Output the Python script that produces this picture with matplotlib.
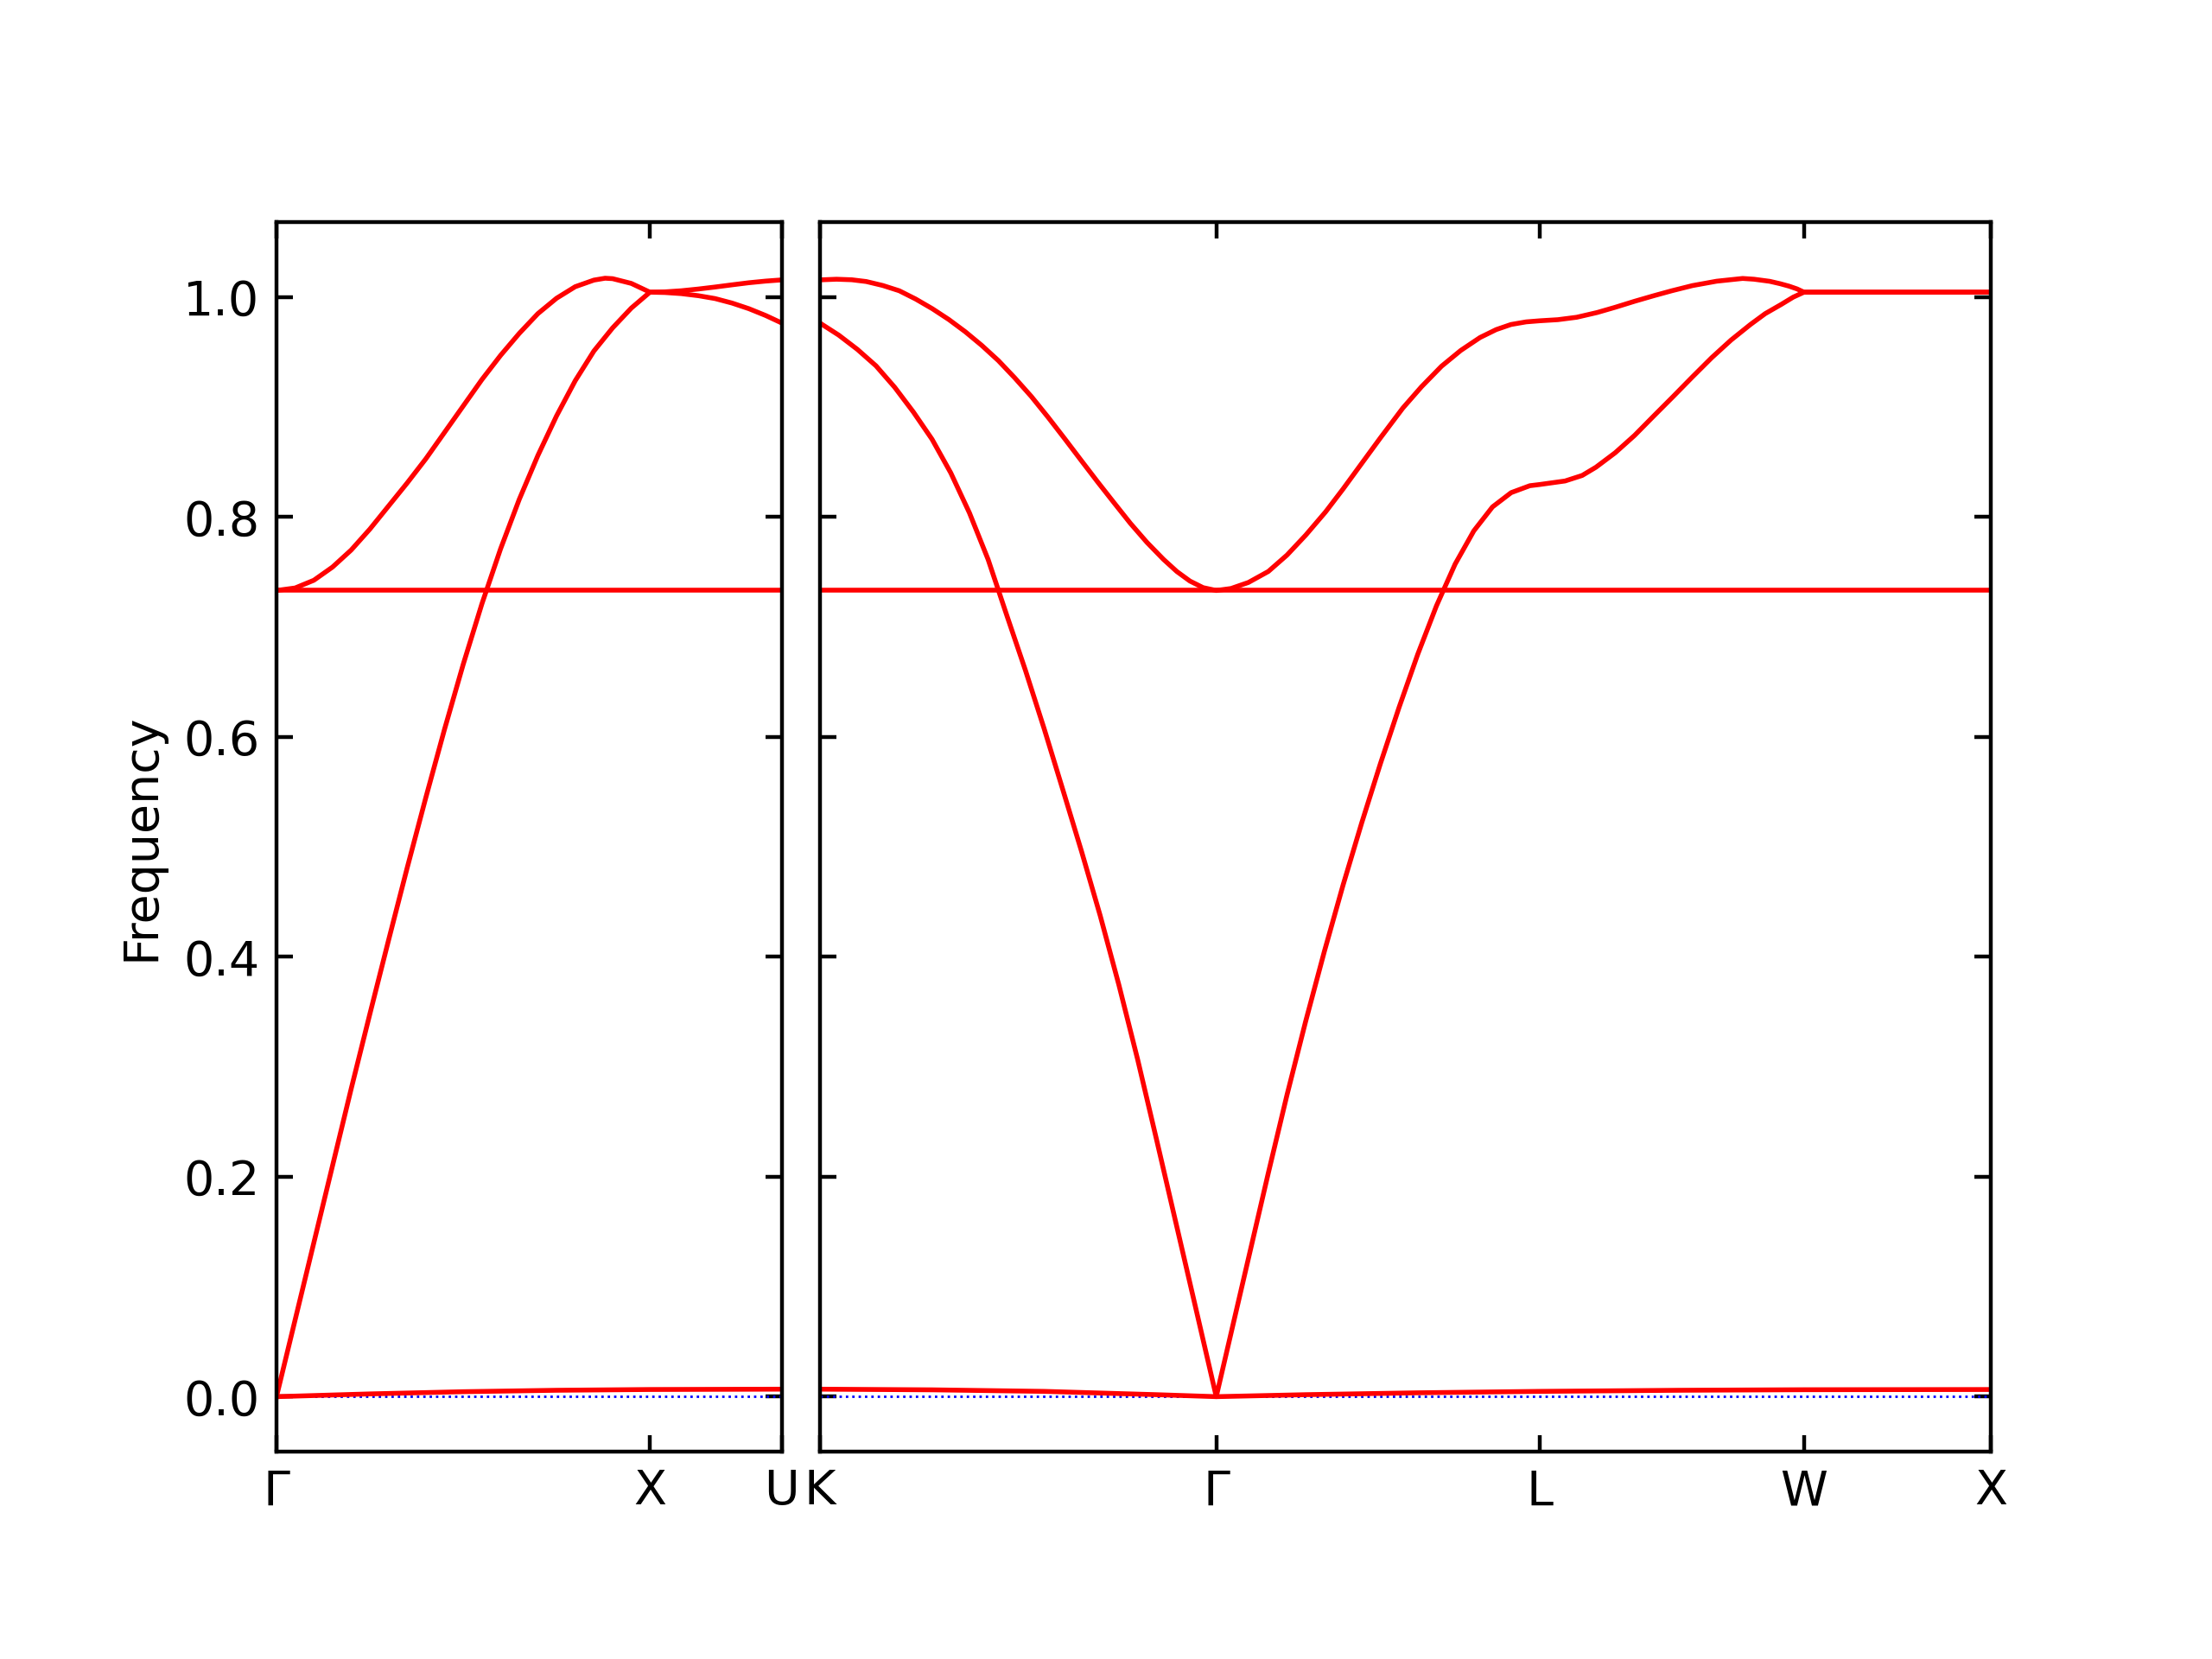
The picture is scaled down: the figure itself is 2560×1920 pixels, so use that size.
"""
Phonon band structure: Γ-X-U | K-Γ-L-W-X
"""

import matplotlib.pyplot as plt
import numpy as np

# high-symmetry points (path length, 2π/a units)
left_ticks = [0.0, 1.0, 1.35355]
left_labels = ['Γ', 'X', 'U']
right_ticks = [0.0, 1.06066, 1.92669, 2.63380, 3.13380]
right_labels = ['K', 'Γ', 'L', 'W', 'X']

flat_band = 0.7332

# --- left panel: Γ - X - U ---
left_low_x = [0.0, 0.05, 0.1, 0.15, 0.2, 0.25, 0.3, 0.35, 0.4, 0.45, 0.5, 0.55, 0.6, 0.65, 0.7,
              0.75, 0.8, 0.85, 0.9, 0.95, 1.0,
              1.04, 1.084, 1.13, 1.1745, 1.22, 1.265, 1.31, 1.35355]
left_low_y = [0.0, 0.070, 0.140, 0.210, 0.280, 0.348, 0.415, 0.481, 0.545, 0.607, 0.666, 0.721, 0.771,
              0.816, 0.856, 0.892, 0.924, 0.951, 0.972, 0.990, 1.0045,
              1.0042, 1.0032, 1.0013, 0.9987, 0.9946, 0.9895, 0.9833, 0.9764]

left_up_x = [0.0, 0.05, 0.1, 0.15, 0.2, 0.25, 0.3, 0.35, 0.4, 0.45, 0.5, 0.55, 0.6, 0.65, 0.7,
             0.75, 0.8, 0.85, 0.88, 0.9, 0.95, 1.0,
             1.04, 1.084, 1.13, 1.1745, 1.22, 1.265, 1.31, 1.35355]
left_up_y = [0.7332, 0.7355, 0.7425, 0.7545, 0.770, 0.789, 0.810, 0.831, 0.853, 0.877, 0.901, 0.925,
             0.947, 0.967, 0.985, 0.999, 1.0095, 1.0155, 1.0172, 1.0168, 1.0125, 1.0045,
             1.0048, 1.0058, 1.0074, 1.0092, 1.0112, 1.0131, 1.0146, 1.0157]

left_zero_x = [0.0, 0.25, 0.5, 0.75, 1.0, 1.35355]
left_zero_y = [0.0, 0.0025, 0.0045, 0.0058, 0.0065, 0.0068]

# --- right panel: K - Γ - L - W - X ---
right_low_x = [0.0, 0.05, 0.1, 0.15, 0.2, 0.25, 0.3, 0.35, 0.4, 0.45, 0.5, 0.55, 0.6, 0.65, 0.7,
               0.75, 0.8, 0.85, 0.9, 0.95, 1.0, 1.06066,
               1.10, 1.15, 1.20, 1.25, 1.30, 1.35, 1.40, 1.45, 1.50, 1.55, 1.60, 1.65, 1.70,
               1.75, 1.80, 1.85, 1.90, 1.92669,
               1.9943, 2.04, 2.0769, 2.1286, 2.1802, 2.2319, 2.2836, 2.3353, 2.3870, 2.4387,
               2.4904, 2.53, 2.573, 2.605, 2.63380, 3.13380]
right_low_y = [0.9764, 0.9655, 0.9525, 0.9375, 0.9180, 0.8955, 0.8707, 0.8402, 0.8038, 0.7614, 0.7106,
               0.6605, 0.6075, 0.5520, 0.4960, 0.4375, 0.3745, 0.3070, 0.2350, 0.1620, 0.0890, 0.0,
               0.0574, 0.1304, 0.2034, 0.2744, 0.3414, 0.4049, 0.4652, 0.5219, 0.5757, 0.6269,
               0.6752, 0.7192, 0.7572, 0.7874, 0.8092, 0.8222, 0.8285, 0.8296,
               0.8328, 0.8378, 0.8453, 0.8585, 0.8742, 0.8920, 0.9096, 0.9275, 0.9450, 0.9610,
               0.9751, 0.9850, 0.9934, 1.0000, 1.0045, 1.0045]

right_up_x = [0.0, 0.0442, 0.085, 0.1238, 0.168, 0.2122, 0.256, 0.3006, 0.345, 0.3890, 0.433, 0.4774,
              0.521, 0.5658, 0.61, 0.6542, 0.698, 0.7426, 0.787, 0.8310, 0.875, 0.9194, 0.955,
              0.9901, 1.0254, 1.06066,
              1.10, 1.1467, 1.20, 1.25, 1.30, 1.3533, 1.40, 1.4567, 1.50, 1.56, 1.61, 1.6634,
              1.715, 1.7668, 1.81, 1.8494, 1.89, 1.92669,
              1.975, 2.0254, 2.08, 2.1288, 2.18, 2.2318, 2.28, 2.3352, 2.40, 2.4696, 2.50,
              2.542, 2.57, 2.5936, 2.615, 2.63380, 3.13380]
right_up_y = [1.0157, 1.0163, 1.0158, 1.0142, 1.0106, 1.0058, 0.9983, 0.9895, 0.9796, 0.9685, 0.9561,
              0.9423, 0.9267, 0.9096, 0.8910, 0.8716, 0.8520, 0.8322, 0.8130, 0.7942, 0.7770, 0.7615,
              0.7505, 0.7418, 0.7358, 0.7332,
              0.7350, 0.7405, 0.7505, 0.7654, 0.7835, 0.8047, 0.8255, 0.8519, 0.8720, 0.8991,
              0.9185, 0.9371, 0.9515, 0.9633, 0.9705, 0.9751, 0.9775, 0.9785,
              0.9795, 0.9817, 0.9860, 0.9908, 0.9962, 1.0013, 1.0058, 1.0105, 1.0145, 1.0170,
              1.0163, 1.0144, 1.0122, 1.0100, 1.0075, 1.0045, 1.0045]

right_zero_x = [0.0, 0.3, 0.6, 0.9, 1.06066, 1.3, 1.6, 1.92669, 2.3, 2.63380, 3.13380]
right_zero_y = [0.0068, 0.0062, 0.0048, 0.0018, 0.0, 0.0018, 0.0035, 0.0048, 0.0058, 0.0063, 0.0065]

ymax = 1.05 * max(max(left_up_y), max(right_up_y))

fig = plt.figure(figsize=(6.4, 4.8), dpi=400)
ax1 = fig.add_axes([0.125, 0.125, 0.2285, 0.741])
ax2 = fig.add_axes([0.3707, 0.125, 0.5293, 0.741])

panels = [
    (ax1, left_ticks, left_labels,
     [(left_zero_x, left_zero_y), (left_low_x, left_low_y), (left_up_x, left_up_y),
      ([left_ticks[0], left_ticks[-1]], [flat_band, flat_band])]),
    (ax2, right_ticks, right_labels,
     [(right_zero_x, right_zero_y), (right_low_x, right_low_y), (right_up_x, right_up_y),
      ([right_ticks[0], right_ticks[-1]], [flat_band, flat_band])]),
]

for ax, ticks, labels, bands in panels:
    ax.axhline(0, color='b', linestyle=':', linewidth=0.5)
    for bx, by in bands:
        ax.plot(bx, by, color='r', linewidth=1.0)
    ax.set_xlim(ticks[0], ticks[-1])
    ax.set_ylim(-0.05, ymax)
    ax.set_xticks(ticks)
    ax.set_xticklabels(labels)
    ax.set_yticks([0.0, 0.2, 0.4, 0.6, 0.8, 1.0])
    ax.tick_params(direction='in', top=True, right=True, labelsize=10)

ax1.set_ylabel('Frequency')
ax2.tick_params(labelleft=False)

fig.savefig('out.png', dpi=400)
plt.close()
